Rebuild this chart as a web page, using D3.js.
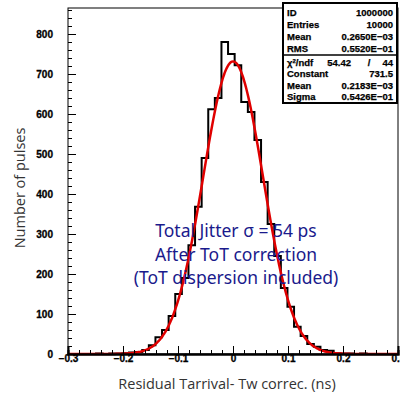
<!DOCTYPE html>
<html><head><meta charset="utf-8">
<script src="https://cdn.jsdelivr.net/npm/d3@7"></script>
<style>body{margin:0;background:#fff}svg{display:block}</style>
</head><body>
<svg id="c" width="400" height="399"></svg>
<script>
// ---- data ----
const binStart = -0.297;
const binWidth = 0.012;
const counts = [0,0,0,0,1,0,1,1,2,4,5,10,22,42,60,95,150,190,272,368,490,612,640,780,750,722,630,605,535,430,325,245,165,118,68,45,25,18,10,8,2,1,1,0,1,0,0,0,0];
const xTicks = [-0.3,-0.2,-0.1,0,0.1,0.2,0.3];
const yTicks = [0,100,200,300,400,500,600,700,800];
const fitConstant = 731.5, fitMean = 0.0002183, fitSigma = 0.05426;
const statsTop = [["ID","1000000"],["Entries","10000"],["Mean","0.2650E\u221203"],["RMS","0.5520E\u221201"]];
const statsFit = [["Constant","731.5"],["Mean","0.2183E\u221203"],["Sigma","0.5426E\u221201"]];
const chi2 = ["54.42","44"];
const annotation = ["Total Jitter \u03c3 = 54 ps","After ToT correction","(ToT dispersion included)"];
const xTitle = "Residual Tarrival- Tw correc. (ns)";
const yTitle = "Number of pulses";

// ---- layout ----
const svg = d3.select("#c");
const L = 68, R = 398, T = 8, B = 354;
const x = d3.scaleLinear([-0.3,0.3],[L,R]);
const y = d3.scaleLinear([0,800],[B,34]);
const tickFont = "'Liberation Sans', Arial, sans-serif";

// frame
svg.append("rect").attr("x",L).attr("y",T).attr("width",R-L).attr("height",B-T)
  .attr("fill","none").attr("stroke","#000").attr("stroke-width",1);

// histogram step path
const bins = counts.map((c,i)=>({x0:binStart+i*binWidth, x1:binStart+(i+1)*binWidth, c}));
let pts = [];
bins.forEach(b=>{ const a=Math.max(b.x0,-0.3), e=Math.min(b.x1,0.3); pts.push([a,b.c]); pts.push([e,b.c]); });
pts.unshift([-0.3,0]); pts.push([0.3,0]);
svg.append("path").attr("d", d3.line().x(d=>x(d[0])).y(d=>y(d[1]))(pts))
  .attr("fill","none").attr("stroke","#000").attr("stroke-width",2);

// fit curve
const fx = d3.range(-0.3,0.3001,0.002);
svg.append("path").attr("d", d3.line().curve(d3.curveBasis).x(d=>x(d)).y(d=>y(fitConstant*Math.exp(-0.5*((d-fitMean)/fitSigma)**2)))(fx))
  .attr("fill","none").attr("stroke","#e00000").attr("stroke-width",2.5);

// x axis
const fmt = d=> d===0 ? "0" : d3.format(".1f")(d).replace("-","\u2212");
const gx = svg.append("g").attr("transform",`translate(0,${B})`);
gx.call(d3.axisBottom(x).tickValues(d3.range(-0.3,0.3001,0.02)).tickSize(-4).tickFormat(""));
gx.call(g=>g.append("g").call(d3.axisBottom(x).tickValues(xTicks).tickSize(-8).tickFormat(fmt)));
gx.selectAll(".domain").attr("stroke-width",2);
gx.selectAll("text").attr("font-family",tickFont).attr("font-weight","bold").attr("font-size",10).attr("fill","#000")
  .attr("stroke","#000").attr("stroke-width",0.3).attr("dy","0.2em").attr("y",6);

// y axis
const gy = svg.append("g").attr("transform",`translate(${L},0)`);
gy.call(d3.axisLeft(y).tickValues(d3.range(0,861,20)).tickSize(-4).tickFormat(""));
gy.call(g=>g.append("g").call(d3.axisLeft(y).tickValues(yTicks).tickSize(-8).tickFormat(d3.format("d"))));
gy.selectAll(".domain").remove();
gy.selectAll("text").attr("font-family",tickFont).attr("font-weight","bold").attr("font-size",10).attr("fill","#000")
  .attr("stroke","#000").attr("stroke-width",0.3).attr("x",-15);

// axis titles
svg.append("text").attr("x",227).attr("y",389).attr("text-anchor","middle")
  .attr("font-family","'Open Sans', sans-serif").attr("font-size",14.5).attr("fill","#333").text(xTitle);
svg.append("text").attr("transform","translate(25,188) rotate(-90)").attr("text-anchor","middle")
  .attr("font-family","'Open Sans', sans-serif").attr("font-size",14.5).attr("fill","#333").text(yTitle);

// annotation
annotation.forEach((t,i)=>{
  svg.append("text").attr("x",236).attr("y",237+i*23.5).attr("text-anchor","middle")
    .attr("font-family","'Noto Sans', sans-serif").attr("font-size",17.5).attr("fill","#1a1a8c").text(t);
});

// stats box
const bx=283, bw=114, by=3, bh=100, div=55;
svg.append("rect").attr("x",bx).attr("y",by).attr("width",bw).attr("height",bh).attr("fill","#fff").attr("stroke","#000").attr("stroke-width",2);
svg.append("line").attr("x1",bx).attr("x2",bx+bw).attr("y1",div).attr("y2",div).attr("stroke","#000").attr("stroke-width",1.5);
const sg = svg.append("g").attr("font-family",tickFont).attr("font-weight","bold").attr("font-size",9.5).attr("fill","#000")
  .attr("stroke","#000").attr("stroke-width",0.25);
const topY=[16,28,40,52];
statsTop.forEach((r,i)=>{
  sg.append("text").attr("x",bx+4).attr("y",topY[i]).text(r[0]);
  sg.append("text").attr("x",bx+bw-4).attr("y",topY[i]).attr("text-anchor","end").text(r[1]);
});
const botY=[66,77,89,100];
sg.append("text").attr("x",bx+4).attr("y",botY[0]).html("\u03c7<tspan dy='-3' font-size='6'>2</tspan><tspan dy='3'>/ndf</tspan>");
sg.append("text").attr("x",bx+68).attr("y",botY[0]).attr("text-anchor","end").text(chi2[0]);
sg.append("text").attr("x",bx+86).attr("y",botY[0]).attr("text-anchor","middle").text("/");
sg.append("text").attr("x",bx+bw-4).attr("y",botY[0]).attr("text-anchor","end").text(chi2[1]);
statsFit.forEach((r,i)=>{
  sg.append("text").attr("x",bx+4).attr("y",botY[i+1]).text(r[0]);
  sg.append("text").attr("x",bx+bw-4).attr("y",botY[i+1]).attr("text-anchor","end").text(r[1]);
});
</script>
</body></html>
